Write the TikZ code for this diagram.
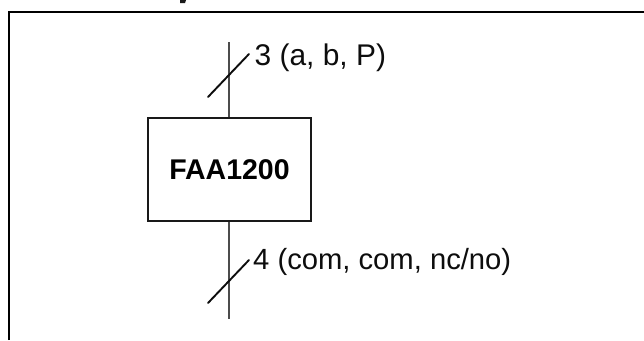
\documentclass[tikz,border=0pt]{standalone}
\usepackage{fontspec}
\setmainfont{Liberation Sans}
\tikzset{
  frameline/.style={line width=2.4bp,black},
  wire/.style={line width=1.2bp,black!70},
  tick/.style={line width=1.9bp,black!95,line cap=round},
  blockbox/.style={draw=black!90,line width=1.7bp,fill=white,minimum width=163bp,minimum height=103bp,inner sep=0pt,font=\fontsize{28.5bp}{30bp}\selectfont\bfseries,text=black},
  lbl/.style={anchor=base west,inner sep=0pt,font=\fontsize{29.2bp}{31bp}\selectfont,text=black!95},
  lbltop/.style={lbl,font=\fontsize{29.9bp}{31bp}\selectfont}
}
\begin{document}
\begin{tikzpicture}[x=1bp,y=-1bp]
\useasboundingbox (0,0) rectangle (644,340);
\fill[white] (0,0) rectangle (644,340);
\coordinate (fbl) at (9,340);
\coordinate (ftl) at (9,12);
\coordinate (ftr) at (644,12);
\draw[frameline] (fbl) -- (ftl) -- (ftr);
\node[blockbox] (block) at (229.5,169.5) {FAA1200};
\coordinate (topend) at (229,42);
\coordinate (botend) at (229,319);
\draw[wire] (topend) -- (topend |- block.north);
\draw[wire] (botend |- block.south) -- (botend);
\coordinate (t1) at (208,97);
\coordinate (t2) at (249,54);
\coordinate (b1) at (208,303);
\coordinate (b2) at (249,260);
\draw[tick] (t1) -- (t2);
\draw[tick] (b1) -- (b2);
\node[lbltop] (toplabel) at (254.5,65) {3 (a, b, P)};
\node[lbl] (botlabel) at (253,269) {4 (com, com, nc/no)};
\fill[black!90] (180,0) -- (186,0) -- (185,3) -- (180,3) -- cycle;
\end{tikzpicture}
\end{document}
